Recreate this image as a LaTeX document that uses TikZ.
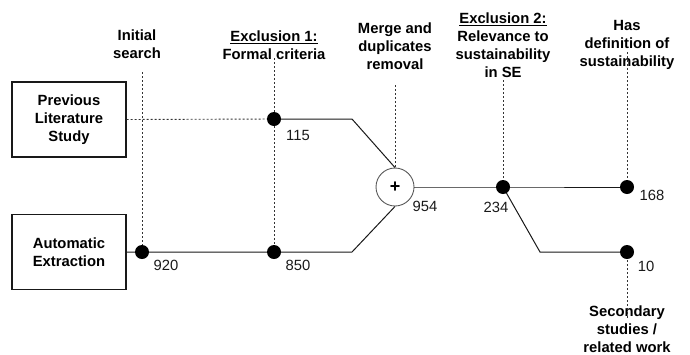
\documentclass[tikz,border=0pt]{standalone}
\usepackage{fontspec}
\setmainfont{Liberation Sans}
\begin{document}
\begin{tikzpicture}[x=1pt,y=-1pt,
    stage/.style={font=\fontsize{14.8}{18}\selectfont\bfseries, align=center, inner sep=0pt},
    count/.style={font=\fontsize{14.8}{17}\selectfont, text=black!90, inner sep=0pt},
    srcbox/.style={draw=black!90, line width=1.1pt, minimum width=114pt, minimum height=75pt,
      font=\fontsize{14.8}{18}\selectfont\bfseries, align=center},
    dot/.style={circle, fill=black, inner sep=0pt, minimum size=14pt},
    flow/.style={draw=black!90, line width=1pt},
    guide/.style={draw=black!80, line width=0.9pt, dash pattern=on 2pt off 2pt}]
    \useasboundingbox (0,0) rectangle (690,354);

    % Sources
    \node[srcbox] (prev) at (69,119.5) {Previous\\Literature\\Study};
    \node[srcbox] (auto) at (69,252) {Automatic\\Extraction};

    % Stage labels
    \node[stage] (tInit) at (137,44) {Initial\\search};
    \node[stage] (tExcl1) at (274,45) {\underline{Exclusion 1:}\\Formal criteria};
    \node[stage] (tMerge) at (395,46) {Merge and\\duplicates\\removal};
    \node[stage] (tExcl2) at (503,45) {\underline{Exclusion 2:}\\Relevance to\\sustainability\\in SE};
    \node[stage] (tDef) at (627,45) {Has\\definition of\\sustainability};
    \node[stage] (tSec) at (627,329) {Secondary\\studies /\\related work};

    % Points of the flow
    \coordinate (d920) at (142,252);
    \coordinate (d115) at (274,119);
    \coordinate (d850) at (274,252);
    \coordinate (d234) at (503,187);
    \coordinate (d168) at (627,187);
    \coordinate (d10) at (627,252);
    \node[circle, draw=black!65, line width=0.9pt, minimum size=38pt, inner sep=0pt,
      fill=white, font=\fontsize{18}{18}\selectfont\bfseries] (merge) at (395,187) {+};

    % Bends
    \coordinate (b1) at (352,119);
    \coordinate (b2) at (352,252);
    \coordinate (b3) at (540,252);

    % Guide lines (dashed)
    \coordinate (gInit) at (142,72);
    \coordinate (gExcl1) at (274,58);
    \coordinate (gMerge) at (395,85);
    \coordinate (gExcl2) at (503,80);
    \coordinate (gDef) at (627,52);
    \coordinate (gSec) at (627,318);
    \path[guide] (gInit) -- (d920);
    \path[guide] (gExcl1) -- (d850);
    \path[guide] (gMerge) -- (merge.north);
    \path[guide] (gExcl2) -- (d234);
    \path[guide] (gDef) -- (d168);
    \path[guide] (d10) -- (gSec);
    \path[guide] (prev.east) -- (d115);

    % Flow lines
    \path[flow] (auto.east) -- (d920) -- (d850) -- (b2) -- (merge.south);
    \path[flow] (d115) -- (b1) -- (merge.north);
    \path[flow] (merge.east) -- (d234) -- (d168);
    \path[flow] (d234) -- (b3) -- (d10);

    % Dots
    \foreach \p in {d920,d115,d850,d234,d168,d10}
      \node[dot] at (\p) {};

    % Counts
    \node[count] (n920) at (166,265) {920};
    \node[count] (n115) at (298,135) {115};
    \node[count] (n850) at (298,265) {850};
    \node[count] (n954) at (425,206) {954};
    \node[count] (n234) at (496,207) {234};
    \node[count] (n168) at (652,195) {168};
    \node[count] (n10) at (646,266) {10};
\end{tikzpicture}
\end{document}
